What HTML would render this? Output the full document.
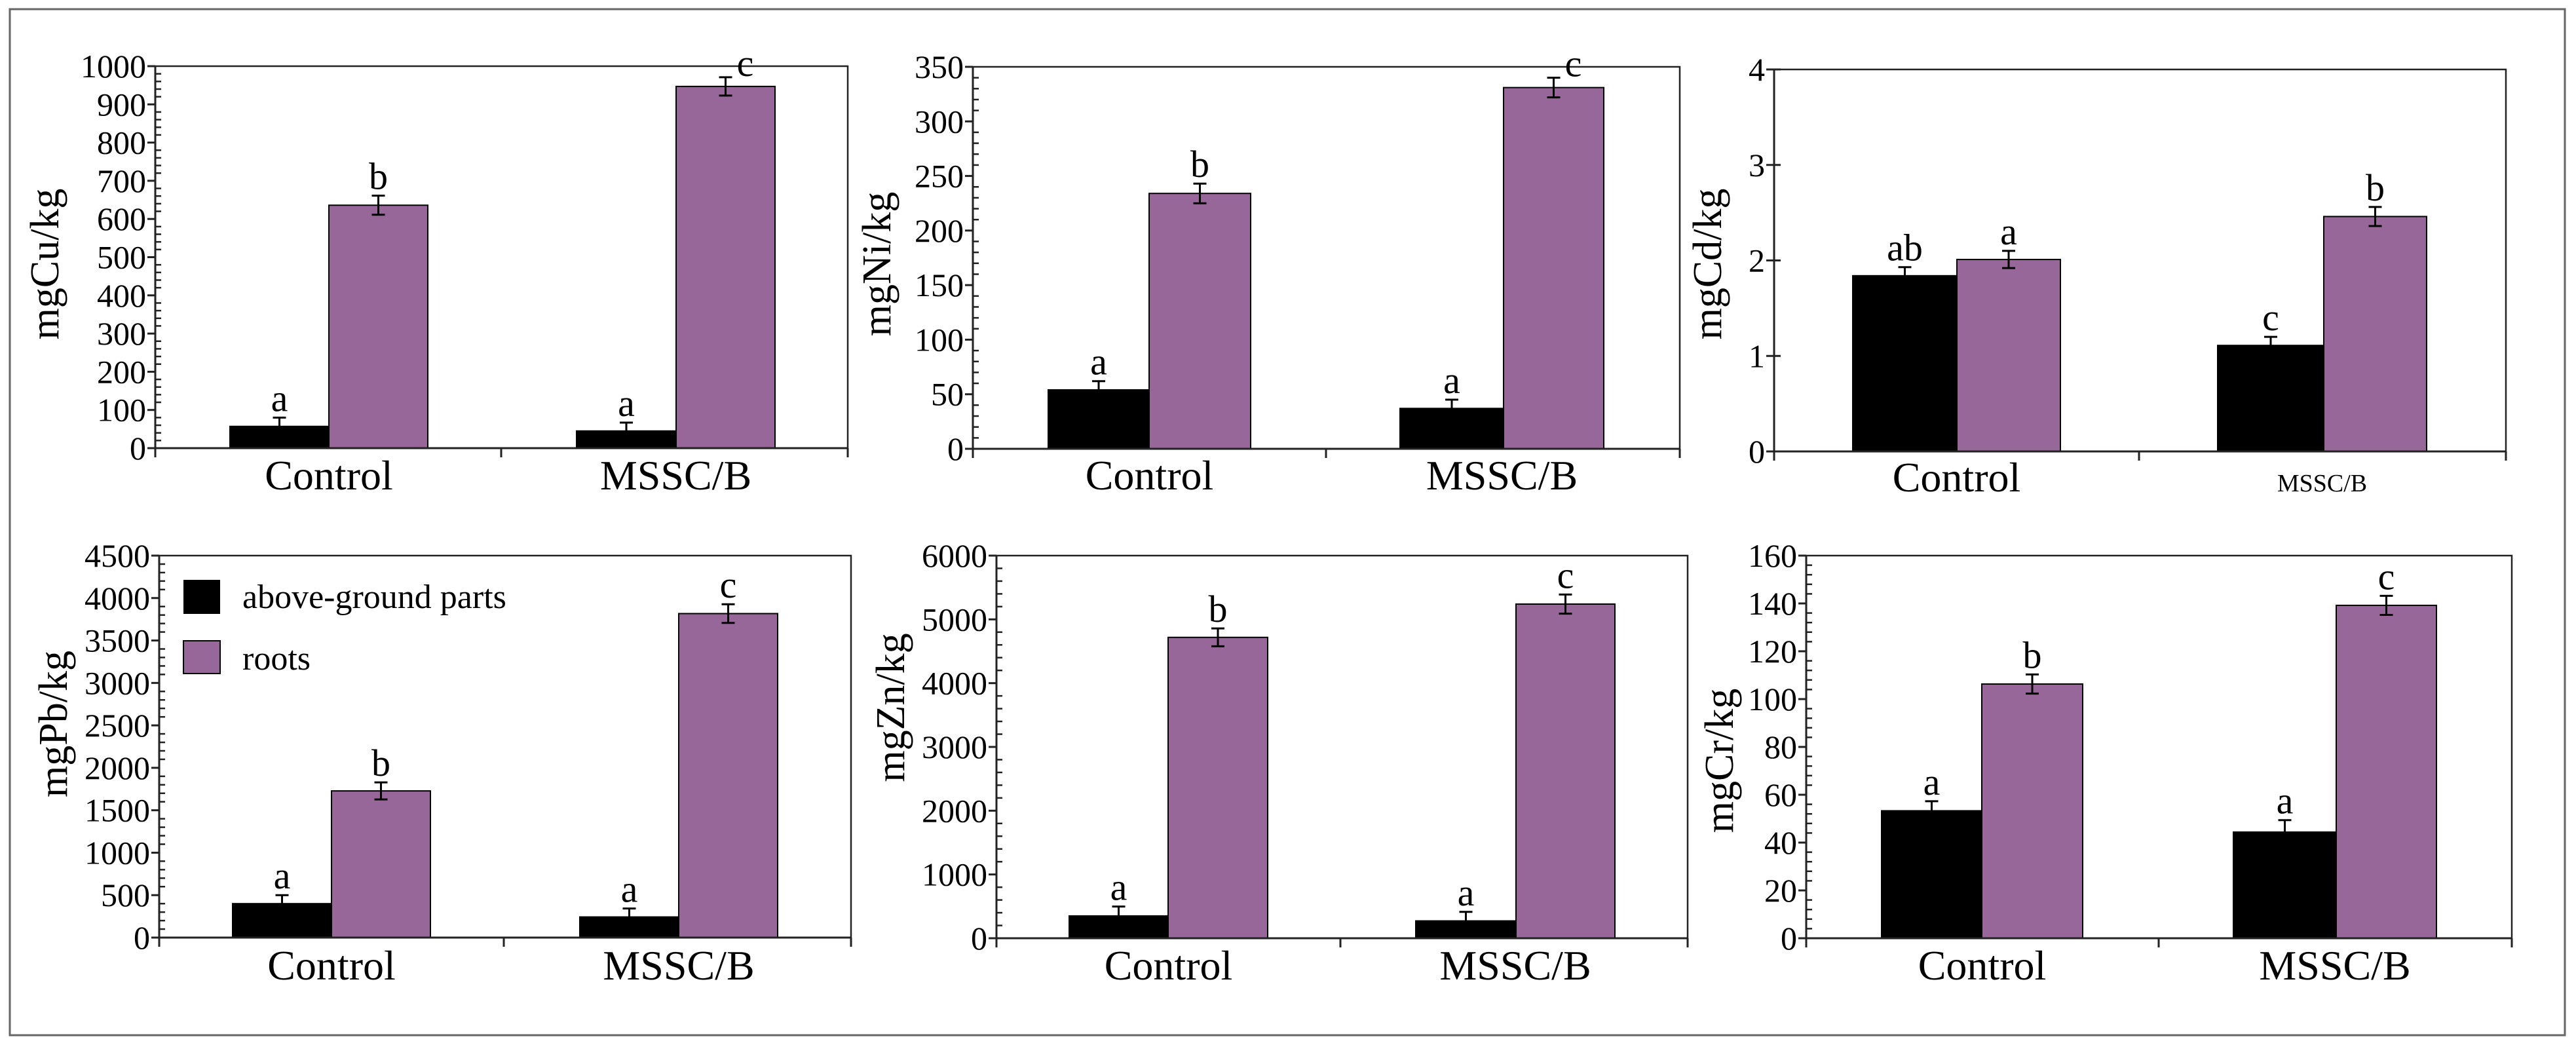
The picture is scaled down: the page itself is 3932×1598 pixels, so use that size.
<!DOCTYPE html>
<html><head><meta charset="utf-8">
<style>
html,body{margin:0;padding:0;background:#fff;}
svg{display:block;}
svg text{font-family:"Liberation Serif","DejaVu Serif",serif !important;}
</style></head>
<body>
<svg id="fig" width="3932" height="1598" viewBox="0 0 3932 1598" xmlns="http://www.w3.org/2000/svg" font-family="Liberation Serif, DejaVu Serif, serif">
<rect x="15" y="14" width="3900" height="1566" fill="#fff" stroke="#666" stroke-width="3"/>
<g id="legend">
  <rect x="280" y="885" width="56" height="52" fill="#000"/>
  <text x="370" y="928" font-size="52" font-family="Liberation Serif, serif">above-ground parts</text>
  <rect x="280" y="978" width="56" height="50" fill="#98679a" stroke="#000" stroke-width="2"/>
  <text x="370" y="1022" font-size="52" font-family="Liberation Serif, serif">roots</text>
</g>
</svg>
<script>
const categories = ["Control", "MSSC/B"];
// Cu
const cuAbove = [57, 45], cuRoots = [636, 947];
const cuErrAbove = [23, 22], cuErrRoots = [25, 24];
const cuLetters = [["a","b"],["a","c"]];
const cuTicks = [0,100,200,300,400,500,600,700,800,900,1000];
// Ni
const niAbove = [54, 37], niRoots = [234, 331];
const niErrAbove = [8, 8], niErrRoots = [9, 9];
const niLetters = [["a","b"],["a","c"]];
const niTicks = [0,50,100,150,200,250,300,350];
// Cd
const cdAbove = [1.84, 1.11], cdRoots = [2.01, 2.46];
const cdErrAbove = [0.09, 0.09], cdErrRoots = [0.09, 0.1];
const cdLetters = [["ab","a"],["c","b"]];
const cdTicks = [0,1,2,3,4];
// Pb
const pbAbove = [400, 243], pbRoots = [1728, 3817];
const pbErrAbove = [100, 100], pbErrRoots = [100, 110];
const pbLetters = [["a","b"],["a","c"]];
const pbTicks = [0,500,1000,1500,2000,2500,3000,3500,4000,4500];
// Zn
const znAbove = [350, 272], znRoots = [4718, 5240];
const znErrAbove = [147, 141], znErrRoots = [140, 150];
const znLetters = [["a","b"],["a","c"]];
const znTicks = [0,1000,2000,3000,4000,5000,6000];
// Cr
const crAbove = [53.3, 44.4], crRoots = [106.3, 139.2];
const crErrAbove = [4, 5], crErrRoots = [4, 4];
const crLetters = [["a","b"],["a","c"]];
const crTicks = [0,20,40,60,80,100,120,140,160];

const panels = [
 {id:"cu",label:"mgCu/kg",above:cuAbove,roots:cuRoots,ea:cuErrAbove,er:cuErrRoots,letters:cuLetters,ticks:cuTicks,minor:5,
  L:237,R:1294,T:101,B:684,bars:[[351,502,653],[880,1032,1183]],sep:765,labX:69,labY:403,catY:747,catFs:64},
 {id:"ni",label:"mgNi/kg",above:niAbove,roots:niRoots,ea:niErrAbove,er:niErrRoots,letters:niLetters,ticks:niTicks,minor:5,
  L:1485,R:2564,T:102,B:685,bars:[[1600,1754,1909],[2137,2295,2448]],sep:2024,labX:1339,labY:403,catY:747,catFs:64},
 {id:"cd",label:"mgCd/kg",above:cdAbove,roots:cdRoots,ea:cdErrAbove,er:cdErrRoots,letters:cdLetters,ticks:cdTicks,minor:0,
  L:2708,R:3825,T:106,B:689,bars:[[2828,2987,3145],[3385,3547,3704]],sep:3265,labX:2607,labY:403,catY:750,catFs:64,smallSecond:true},
 {id:"pb",label:"mgPb/kg",above:pbAbove,roots:pbRoots,ea:pbErrAbove,er:pbErrRoots,letters:pbLetters,ticks:pbTicks,minor:5,
  L:243,R:1299,T:848,B:1431,bars:[[355,506,657],[885,1036,1187]],sep:769,labX:82,labY:1105,catY:1495,catFs:64},
 {id:"zn",label:"mgZn/kg",above:znAbove,roots:znRoots,ea:znErrAbove,er:znErrRoots,letters:znLetters,ticks:znTicks,minor:5,
  L:1521,R:2576,T:848,B:1432,bars:[[1632,1783,1935],[2161,2314,2465]],sep:2046,labX:1360,labY:1080,catY:1495,catFs:64},
 {id:"cr",label:"mgCr/kg",above:crAbove,roots:crRoots,ea:crErrAbove,er:crErrRoots,letters:crLetters,ticks:crTicks,minor:5,
  L:2757,R:3834,T:848,B:1432,bars:[[2872,3025,3179],[3409,3566,3719]],sep:3295,labX:2625,labY:1161,catY:1495,catFs:64}
];

const NS = "http://www.w3.org/2000/svg";
const FONT = "Liberation Serif, DejaVu Serif, serif";
const svg = document.getElementById("fig");
const legend = document.getElementById("legend");
function mk(tag, attrs, parent){
  const e = document.createElementNS(NS, tag);
  for (const k in attrs) e.setAttribute(k, attrs[k]);
  if (tag === "text") e.setAttribute("font-family", FONT);
  (parent||svg).appendChild(e);
  return e;
}

panels.forEach(p => {
  const g = mk("g", {});
  
  
  svg.insertBefore(g, legend);
  const max = p.ticks[p.ticks.length-1], min = p.ticks[0];
  const y = v => p.B - (v - min) / (max - min) * (p.B - p.T);

  const box = mk("rect", {x:p.L, y:p.T, width:p.R-p.L, height:p.B-p.T, fill:"none", stroke:"#222", "stroke-width":2.5}, g);
  
  

  for (let c = 0; c < categories.length; c++) {
    const [x0, x1, x2] = p.bars[c];
    const series = [[p.above[c], p.ea[c], x0, x1, "#000", "above"], [p.roots[c], p.er[c], x1, x2, "#98679a", "roots"]];
    series.forEach((s, si) => {
      const [v, e, xa, xb, col, nm] = s;
      const r = mk("rect", {x:xa, y:y(v), width:xb-xa, height:p.B-y(v), fill:col, stroke:"#000", "stroke-width":2}, g);
      
      
      const cx = (xa + xb) / 2;
      const eb = mk("path", {d:`M${cx},${y(v+e)}V${y(v-e)}M${cx-10},${y(v+e)}H${cx+10}M${cx-10},${y(v-e)}H${cx+10}`, stroke:"#000", "stroke-width":3, fill:"none"}, g);
      
      
      let ly = y(v+e) - 10, lx = cx;
      if (ly - 30 < p.T) { lx = cx + 30; ly = y(v+e) - 2; }
      const t = mk("text", {x:lx, y:ly, "font-size":58, "text-anchor":"middle", fill:"#000"}, g);
      t.textContent = p.letters[c][si];
      
      
    });
    const cl = mk("text", {x:(x0+x2)/2, y:p.catY, "font-size": (p.smallSecond && c===1) ? 38 : p.catFs, "text-anchor":"middle", fill:"#000"}, g);
    cl.textContent = categories[c];
    
    
  }

  const ax = mk("path", {d:`M${p.L},${p.T}V${p.B}H${p.R}M${p.sep},${p.B}V${p.B+14}M${p.R},${p.B}V${p.B+14}M${p.L},${p.B}V${p.B+14}`, stroke:"#222", "stroke-width":3, fill:"none"}, g);
  
  

  p.ticks.forEach((tv, i) => {
    const ty = y(tv);
    const tk = mk("line", {x1:p.L-12, x2: p.minor ? p.L : p.L+10, y1:ty, y2:ty, stroke:"#222", "stroke-width":3}, g);
    
    
    const tl = mk("text", {x:p.L-14, y:ty+17, "font-size":50, "text-anchor":"end", fill:"#000"}, g);
    tl.textContent = tv;
    
    
    if (p.minor && i < p.ticks.length-1) {
      const step = (p.ticks[i+1] - tv) / p.minor;
      for (let m = 1; m < p.minor; m++) {
        const my = y(tv + m*step);
        const mt = mk("line", {x1:p.L, x2:p.L+9, y1:my, y2:my, stroke:"#222", "stroke-width":2.5}, g);
        
        
      }
    }
  });

  const yl = mk("text", {x:0, y:0, "font-size":62, "text-anchor":"middle", fill:"#000",
    transform:`translate(${p.labX + 20},${p.labY}) rotate(-90)`}, g);
  yl.textContent = p.label;
  
  
});
</script>
</body></html>
